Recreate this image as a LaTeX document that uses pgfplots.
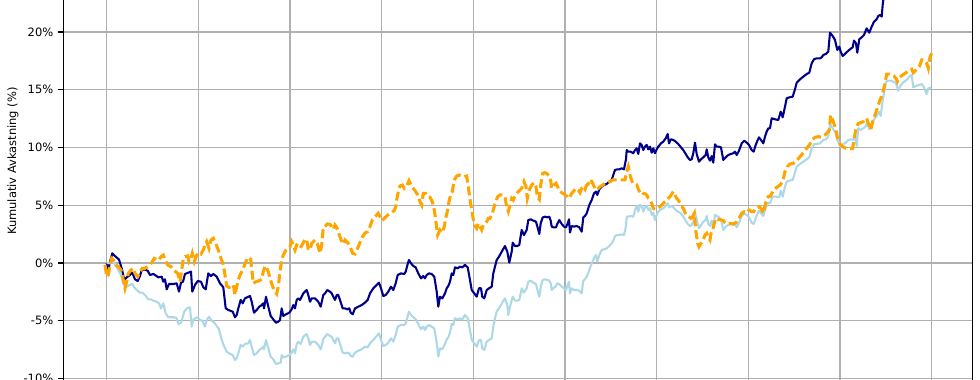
\documentclass[border=0pt]{standalone}
\usepackage{pgfplots}
\usepackage{pgfplotstable}
\pgfplotsset{compat=1.18}
\usepackage{fontspec}
\setmainfont{DejaVu Sans}
\definecolor{dblue}{HTML}{00008B}
\definecolor{lblue}{HTML}{ADD8E6}
\definecolor{orng}{HTML}{FFA500}
\definecolor{gridc}{HTML}{B0B0B0}

\pgfplotstableread{
x y
106.7 0.00
108.3 -0.60
110.0 0.10
112.3 0.84
115.0 0.60
119.0 0.30
121.7 -0.46
124.3 -1.47
126.7 -1.24
130.0 -1.04
132.3 -0.84
135.0 -1.41
137.7 -1.56
140.0 -1.13
141.7 -0.61
144.3 -0.55
147.7 -0.67
150.0 -1.04
153.3 -0.95
155.0 -1.04
158.3 -1.24
161.7 -1.18
163.3 -1.62
165.0 -1.41
166.7 -2.28
169.0 -1.82
173.3 -1.82
176.7 -1.76
179.0 -2.48
181.0 -1.70
183.0 -1.62
185.0 -0.95
188.3 -0.84
191.0 -0.75
192.3 -2.48
195.0 -1.90
197.7 -1.56
201.0 -1.62
203.3 -2.10
205.7 -2.28
208.3 -0.90
211.0 -1.13
213.3 -0.95
216.7 -1.18
220.0 -1.76
223.3 -2.10
225.7 -3.92
228.3 -4.07
232.7 -4.21
235.0 -4.70
236.7 -4.50
238.3 -3.93
240.7 -3.20
242.7 -3.49
245.0 -3.06
248.3 -2.92
250.0 -2.86
251.7 -3.35
254.0 -4.30
256.7 -4.07
259.3 -3.78
261.7 -3.64
263.3 -3.49
264.0 -3.93
266.0 -2.92
268.3 -3.78
270.7 -4.59
273.3 -4.88
276.0 -5.17
278.3 -5.08
280.0 -4.94
281.7 -3.93
283.3 -4.59
286.0 -4.44
289.3 -4.30
291.7 -4.01
293.3 -3.64
295.0 -3.93
296.7 -3.20
298.3 -3.06
300.0 -3.20
303.3 -2.63
306.7 -2.34
308.3 -2.77
310.0 -3.35
311.7 -3.06
315.0 -3.06
318.3 -3.35
320.7 -3.78
323.3 -2.77
325.0 -2.63
327.3 -2.34
330.0 -2.48
331.7 -2.63
333.3 -2.92
335.0 -3.20
336.7 -2.77
338.3 -2.77
340.0 -3.20
342.7 -3.93
345.0 -3.93
347.3 -4.01
349.3 -3.93
350.7 -4.30
352.7 -4.44
355.0 -3.93
358.3 -3.78
361.7 -3.64
365.0 -3.43
367.7 -3.20
370.0 -2.63
373.3 -2.19
376.7 -1.90
379.0 -1.70
381.0 -2.19
383.3 -2.86
385.7 -2.77
388.3 -2.48
391.0 -2.05
393.3 -2.34
395.7 -1.76
397.7 -1.04
401.0 -0.90
404.3 -0.95
405.7 -0.75
407.7 -0.09
409.0 0.26
411.0 -0.03
413.3 -0.26
415.7 -0.38
418.3 -0.90
421.0 -1.33
423.3 -1.13
425.0 -1.33
426.7 -1.04
429.0 -0.90
431.7 -0.95
434.3 -1.18
436.7 -2.48
438.3 -3.78
440.0 -2.92
442.3 -3.06
445.0 -2.63
446.7 -2.19
448.3 -1.99
450.0 -1.62
451.7 -0.90
453.3 -1.04
455.0 -0.38
457.7 -0.46
460.0 -0.32
462.3 -0.38
465.0 -0.17
467.7 -0.38
470.0 -1.47
471.7 -2.34
474.3 -2.63
476.7 -2.92
479.0 -2.19
481.0 -2.19
482.3 -2.92
484.3 -3.06
486.7 -2.34
489.0 -2.19
491.7 -2.05
493.3 -0.90
495.0 -0.32
496.7 0.26
499.0 0.55
502.7 1.13
505.0 1.47
507.3 0.98
509.3 0.03
511.7 0.98
512.7 1.76
515.0 1.47
517.3 1.47
519.3 1.56
520.7 2.34
521.7 2.86
524.0 2.42
526.7 2.86
528.3 3.72
530.7 3.78
533.3 3.67
536.0 3.58
538.3 2.86
539.3 2.51
540.7 3.43
542.7 3.95
545.0 4.01
547.3 3.95
549.3 4.01
550.7 3.67
551.7 3.15
553.3 3.09
556.0 3.09
557.3 3.38
559.3 3.72
561.7 3.38
564.0 3.15
566.0 3.09
567.7 3.43
569.0 3.78
570.0 2.63
571.7 3.20
574.0 3.15
576.7 3.20
579.3 3.09
581.7 2.71
583.3 3.95
585.0 4.07
586.7 4.30
589.3 5.02
591.7 5.45
594.0 6.03
596.0 6.18
597.3 5.89
599.3 6.38
601.7 6.61
604.0 6.75
606.7 6.84
609.3 7.04
611.7 7.19
613.3 7.62
615.0 8.05
617.3 8.11
619.3 8.11
621.7 8.20
624.0 8.11
626.0 8.98
626.7 9.78
628.3 9.64
630.7 9.64
633.3 9.50
635.0 9.78
636.7 9.93
638.3 9.44
640.0 10.36
641.7 10.22
643.3 9.78
645.0 10.07
646.7 10.22
648.3 9.84
650.0 10.07
651.7 9.55
653.3 9.93
655.0 9.50
656.7 9.84
658.3 10.07
661.0 10.36
663.3 10.51
665.7 10.79
667.7 11.17
669.0 10.36
671.0 10.71
673.3 10.65
675.7 10.51
678.3 10.30
681.0 10.01
683.3 9.78
685.7 9.44
687.7 9.15
690.0 8.92
691.7 8.98
693.3 9.50
695.0 10.42
696.7 9.44
699.0 8.77
701.0 8.98
703.3 9.15
705.7 9.35
706.7 9.84
708.3 9.15
710.0 8.86
711.7 9.26
713.3 8.69
715.0 10.27
716.7 10.07
719.0 10.07
721.0 10.01
723.3 8.92
725.7 9.15
728.3 9.35
731.0 9.44
733.3 9.50
735.0 9.64
736.7 9.35
739.0 9.72
741.7 10.36
744.3 10.59
746.7 10.42
749.0 10.22
751.7 9.78
753.7 9.64
755.7 10.22
757.7 10.65
759.0 10.88
761.0 10.65
763.3 10.36
765.0 10.94
766.7 11.37
768.3 11.66
770.0 11.66
771.7 12.53
775.0 12.44
778.3 12.38
780.7 13.10
782.7 12.61
785.0 13.53
786.7 14.26
789.3 14.34
792.7 14.40
795.0 15.04
796.7 15.61
800.0 15.90
803.3 16.13
806.7 16.36
809.3 16.48
811.7 17.29
814.0 17.64
816.7 17.72
820.0 17.72
821.7 17.81
823.3 18.01
826.0 18.10
828.3 18.30
830.0 19.94
832.7 19.65
835.0 19.31
837.3 18.44
839.3 18.73
840.7 18.30
842.7 17.92
845.0 18.10
847.3 18.30
850.0 18.50
852.7 18.68
854.0 19.25
856.0 19.02
857.3 18.21
859.3 19.37
861.7 19.54
864.0 19.74
866.7 20.32
869.3 19.94
871.7 20.46
874.0 20.89
876.7 21.10
878.3 21.39
880.0 21.47
881.7 21.33
882.7 22.34
883.3 22.77
885.0 23.60
890.0 24.00
900.0 24.50
910.0 24.80
920.0 25.30
931.7 25.80
}\dbtable

\pgfplotstableread{
x y
106.7 0.00
110.0 -0.03
113.3 0.12
115.7 -0.17
118.3 -0.61
121.0 -1.04
123.3 -1.76
125.0 -2.11
127.7 -1.99
130.0 -1.90
132.3 -1.82
134.3 -2.11
136.7 -2.34
140.0 -2.57
142.3 -2.57
145.0 -2.77
148.3 -3.15
151.0 -3.15
153.3 -3.26
156.7 -3.35
159.0 -3.49
161.0 -3.93
163.3 -3.49
165.7 -4.36
168.3 -4.70
171.0 -4.70
174.3 -4.70
176.7 -4.79
178.3 -5.28
181.0 -5.17
182.3 -4.79
184.3 -4.21
186.7 -3.93
190.0 -3.84
191.7 -5.51
193.3 -4.94
195.0 -4.79
197.7 -4.70
200.0 -4.94
202.3 -4.99
205.0 -5.51
206.7 -4.94
209.0 -4.65
211.7 -4.99
214.3 -5.17
216.7 -5.45
219.0 -5.74
221.7 -6.67
224.3 -7.24
226.7 -7.68
229.0 -7.82
232.7 -7.97
235.0 -8.40
236.7 -8.25
238.3 -7.82
240.7 -7.10
242.7 -7.24
245.0 -7.01
248.3 -6.95
250.0 -6.67
251.7 -7.24
254.0 -7.97
256.7 -7.82
259.3 -7.53
261.7 -7.39
263.3 -7.24
264.0 -7.47
266.0 -6.67
268.3 -7.39
270.7 -8.11
273.3 -8.34
276.0 -8.74
278.3 -8.69
280.7 -8.63
281.7 -7.97
283.3 -8.17
286.0 -8.11
289.3 -7.97
291.7 -7.76
293.3 -7.47
295.0 -7.82
296.7 -7.01
298.3 -6.81
300.7 -7.01
303.3 -6.38
306.7 -6.15
308.3 -6.52
310.0 -7.10
311.7 -6.81
315.0 -6.81
318.3 -7.10
320.7 -7.47
323.3 -6.61
325.0 -6.38
327.3 -6.15
330.0 -6.32
331.7 -6.38
333.3 -6.67
335.0 -6.95
336.7 -6.52
338.3 -6.52
340.0 -7.01
342.7 -7.76
345.0 -7.82
347.3 -7.76
349.3 -7.82
350.7 -8.05
352.7 -8.11
355.0 -7.76
358.3 -7.59
361.7 -7.47
365.0 -7.24
367.7 -7.30
370.0 -6.95
373.3 -6.67
376.7 -6.32
379.0 -6.09
381.0 -6.67
383.3 -7.19
385.7 -7.10
388.3 -6.90
391.0 -6.52
393.3 -6.81
395.7 -6.23
397.7 -5.51
401.0 -5.37
404.3 -5.37
405.7 -5.22
407.7 -4.59
409.0 -4.21
411.0 -4.50
413.3 -4.70
415.7 -4.88
418.3 -5.28
421.0 -5.74
423.3 -5.51
425.0 -5.80
426.7 -5.51
429.0 -5.37
431.7 -5.51
434.3 -5.66
436.7 -6.90
438.3 -8.11
440.0 -7.39
442.3 -7.47
445.0 -7.01
446.7 -6.61
448.3 -6.44
450.0 -6.03
451.7 -5.28
453.3 -5.37
455.0 -4.79
457.7 -4.88
460.0 -4.79
462.3 -4.88
465.0 -4.50
467.7 -4.79
470.0 -5.80
471.7 -6.67
474.3 -6.95
476.7 -7.24
479.0 -6.67
481.0 -6.67
482.3 -7.39
484.3 -7.53
486.7 -6.81
489.0 -6.67
491.7 -6.52
493.3 -5.51
495.0 -4.79
496.7 -4.21
499.0 -3.93
501.7 -3.55
502.7 -3.35
505.0 -3.06
507.3 -3.64
508.3 -4.50
510.0 -3.78
512.7 -2.92
515.0 -3.26
517.3 -3.26
519.3 -3.20
520.7 -2.63
521.7 -2.19
524.0 -2.57
526.7 -2.19
528.3 -1.62
530.7 -1.53
533.3 -1.70
536.0 -1.82
538.3 -2.63
539.3 -2.92
540.7 -2.05
542.7 -1.47
545.0 -1.41
547.3 -1.47
549.3 -1.53
550.7 -1.76
551.7 -2.34
553.3 -2.19
556.0 -1.99
557.3 -1.76
559.3 -1.82
561.7 -2.05
564.0 -2.19
566.0 -2.34
567.7 -1.90
569.0 -1.62
570.0 -2.63
571.7 -2.19
574.0 -2.34
576.7 -2.34
579.3 -2.40
581.7 -2.63
583.3 -1.53
585.0 -1.41
586.7 -1.18
589.3 -0.61
591.7 -0.03
594.0 0.40
596.0 0.69
597.3 0.12
599.3 0.69
601.7 1.13
604.0 1.18
606.7 1.27
609.3 1.47
611.7 1.70
613.3 1.93
615.0 2.34
617.3 2.42
619.3 2.42
621.7 2.48
624.0 2.42
626.0 3.20
626.7 4.01
628.3 4.01
630.7 4.07
633.3 4.01
635.0 4.59
636.7 4.94
638.3 4.44
640.0 5.02
641.7 4.94
643.3 4.44
645.0 4.82
646.7 4.94
648.3 4.59
650.0 4.73
651.7 4.16
653.3 4.36
655.0 3.72
656.7 4.16
658.3 4.44
661.0 4.65
663.3 4.73
665.7 4.94
667.7 5.17
669.0 4.82
671.0 4.94
673.3 4.82
675.7 4.59
678.3 4.44
681.0 4.30
683.3 4.01
685.7 3.67
687.7 3.38
690.0 3.20
691.7 3.29
693.3 3.58
695.0 4.44
696.7 3.72
699.0 3.00
701.0 3.29
703.3 3.58
705.7 3.72
706.7 4.07
708.3 3.38
710.0 3.20
711.7 3.67
713.3 3.00
715.0 4.16
716.7 4.07
719.0 3.96
721.0 3.78
723.3 2.86
725.7 3.15
728.3 3.29
731.0 3.38
733.3 3.29
735.0 3.38
736.7 3.09
739.0 3.49
741.7 4.07
744.3 4.30
746.7 4.16
749.0 3.96
751.7 3.49
753.7 3.38
755.7 3.87
757.7 4.30
759.0 4.53
761.0 4.30
763.3 4.07
765.0 4.59
766.7 4.94
768.3 5.22
770.0 5.17
772.7 5.74
776.0 5.74
779.3 5.69
780.7 6.26
782.7 5.74
785.0 6.61
786.7 7.04
789.3 7.13
792.7 7.19
795.0 7.82
796.7 8.34
800.0 8.57
803.3 8.77
806.7 8.98
809.3 9.15
811.7 9.93
814.0 10.30
816.7 10.30
820.0 10.36
821.7 10.51
823.3 10.65
826.0 10.71
828.3 10.94
830.0 12.03
832.7 11.66
835.0 11.37
837.3 10.65
839.3 10.36
840.7 10.07
843.3 10.30
846.0 10.42
848.3 10.65
851.7 10.71
853.3 10.65
855.0 10.94
856.7 10.13
858.3 11.66
860.7 11.52
863.3 11.66
866.0 11.86
867.3 12.24
869.3 11.57
871.7 12.09
874.0 12.44
876.7 12.73
879.3 13.10
880.7 12.73
882.7 14.11
884.0 14.69
886.0 15.70
888.3 15.79
890.7 15.79
893.3 15.70
896.0 15.56
898.3 14.92
900.0 15.27
902.7 15.61
906.0 15.79
909.3 16.13
911.7 16.28
913.3 15.21
916.0 15.32
919.3 15.41
921.7 15.50
924.0 15.21
926.7 14.63
928.3 15.12
931.0 15.21
}\lbtable

\pgfplotstableread{
x y
105.0 -0.17
106.7 -1.18
108.3 -1.04
110.0 -0.17
111.7 0.40
113.3 0.26
115.7 -0.17
118.3 -0.32
121.0 -0.61
123.3 -1.47
125.0 -2.19
126.7 -1.62
128.3 -0.90
131.0 -0.61
133.3 -0.46
135.0 -0.90
137.7 -1.18
140.0 -0.75
142.3 -0.46
145.0 -0.46
147.7 -0.32
150.0 -0.17
152.3 0.12
154.3 0.40
156.7 0.26
159.0 0.26
161.0 0.55
163.3 0.69
165.0 0.26
167.7 -0.17
171.0 -0.32
174.3 -0.66
177.7 -0.90
180.0 -1.62
181.7 -0.61
183.3 0.40
185.0 0.55
187.7 0.61
189.0 0.12
191.0 0.40
192.3 0.84
194.3 0.12
196.7 0.69
199.0 0.90
201.0 0.78
203.3 1.13
205.0 1.56
206.7 1.85
209.0 1.27
211.0 1.99
213.3 2.14
215.7 1.70
218.3 1.13
221.0 0.40
223.3 -0.17
225.0 -1.04
226.7 -1.99
229.0 -2.11
231.7 -2.05
233.3 -1.90
235.0 -2.77
236.7 -2.05
238.3 -1.47
240.0 -1.04
242.7 -0.61
245.0 -0.09
246.7 0.26
248.3 0.49
250.7 0.32
251.7 -0.46
253.3 -1.76
256.0 -1.62
259.3 -1.53
261.7 -1.41
263.3 -0.75
265.0 -0.26
266.7 -0.38
268.3 -0.75
270.0 -1.33
272.7 -2.05
275.0 -2.48
276.7 -2.68
278.3 -2.05
280.0 -0.75
281.7 0.26
283.3 0.69
286.0 1.13
288.3 1.36
290.0 1.41
291.7 1.85
293.3 1.56
295.0 1.13
296.7 1.56
298.3 1.47
300.0 1.27
302.7 1.65
305.0 2.05
306.7 2.05
308.3 1.13
310.0 1.18
311.7 1.70
315.0 1.99
317.3 1.70
320.0 0.84
321.7 1.56
323.3 3.09
325.0 3.15
327.3 3.38
330.0 3.35
331.7 3.15
333.3 2.92
335.0 3.29
336.7 3.09
338.3 2.71
340.0 2.28
341.7 1.85
343.3 1.65
345.0 1.99
346.7 1.85
348.3 1.70
350.7 1.27
352.7 0.84
355.0 0.78
358.3 1.41
361.7 2.14
365.0 2.60
367.7 2.71
370.0 3.15
372.3 3.72
374.3 3.87
376.7 4.16
378.3 4.30
380.0 4.01
382.3 3.67
384.3 3.87
386.7 4.07
389.0 4.24
391.7 4.36
394.3 4.53
395.7 4.88
396.7 5.45
398.3 6.18
400.0 6.67
402.3 6.75
404.3 6.46
406.7 6.67
409.0 7.13
411.0 6.75
413.3 6.46
415.7 6.18
417.7 5.89
420.0 5.31
421.7 5.02
423.3 6.03
425.7 6.03
427.7 5.74
430.0 5.69
432.3 5.31
434.3 4.59
435.7 3.72
437.7 2.42
440.0 2.86
442.3 2.63
444.3 3.15
445.7 3.87
447.7 4.59
449.0 5.31
451.0 6.03
452.3 6.18
454.3 7.19
456.7 7.53
459.0 7.62
461.7 7.53
464.3 7.47
466.7 7.53
468.3 6.61
470.0 5.51
471.7 4.59
473.3 3.78
475.0 3.20
476.7 3.00
478.3 3.43
480.0 3.15
481.7 2.86
483.3 3.29
485.0 3.43
486.7 3.58
488.3 3.87
490.0 3.87
491.7 4.16
493.3 4.59
495.0 5.17
497.7 5.74
500.0 5.89
503.3 5.89
505.0 5.74
506.7 4.82
508.3 4.44
510.0 5.02
511.7 5.60
513.3 5.45
515.0 5.80
517.3 6.09
520.0 6.32
521.7 6.46
524.0 7.04
526.0 6.61
527.3 5.60
529.3 6.32
531.7 6.75
534.0 6.95
536.0 6.61
537.3 5.74
539.3 5.51
540.7 6.75
542.7 7.76
545.0 7.82
547.3 7.71
549.3 7.53
550.7 7.13
551.7 6.46
554.0 6.75
556.0 6.90
557.3 6.67
559.3 6.26
561.7 6.09
564.0 5.97
566.7 5.80
568.3 5.60
570.0 5.74
571.7 6.03
574.0 6.26
576.0 6.46
578.3 6.32
580.0 6.09
581.7 6.46
583.3 6.61
585.0 6.38
586.7 6.75
588.3 6.84
590.7 7.24
592.7 6.90
595.0 6.46
596.7 6.32
598.3 6.46
600.0 6.61
602.7 6.75
605.0 6.90
607.3 6.95
610.0 7.04
612.7 7.19
615.0 7.19
617.3 7.19
620.0 7.19
622.7 7.19
625.0 7.19
626.7 7.91
628.3 8.34
630.0 7.62
631.7 7.13
633.3 6.90
635.0 6.90
636.7 6.80
638.3 6.40
640.0 6.10
641.7 6.20
643.3 6.03
645.0 6.00
646.7 5.89
648.3 5.60
650.0 5.45
651.7 5.17
653.3 4.73
655.0 4.65
656.7 4.73
659.0 4.82
661.0 4.94
663.3 5.17
665.0 5.31
666.7 5.45
668.3 5.60
670.0 5.74
671.7 5.97
673.3 6.18
675.0 5.89
676.7 5.60
678.3 5.45
681.0 5.02
683.3 4.73
685.0 4.36
686.7 4.16
689.0 4.01
691.0 3.87
692.3 3.96
694.3 4.30
695.7 2.86
697.7 1.70
699.0 1.41
701.0 1.70
703.3 2.05
705.0 2.42
706.7 2.57
708.3 2.22
710.0 1.99
711.0 2.57
712.3 2.71
714.3 3.43
715.7 3.87
718.3 3.78
721.0 3.72
723.3 3.67
725.0 3.49
727.7 3.38
730.0 3.43
732.3 3.38
735.0 3.43
736.7 3.58
739.0 3.87
741.7 4.30
744.3 4.44
746.7 4.36
749.0 4.59
751.7 4.44
753.7 4.44
755.7 4.73
757.7 4.82
759.0 4.88
761.0 4.73
763.3 4.30
765.0 4.94
766.7 5.60
768.3 5.74
770.0 5.74
773.3 6.26
776.7 6.55
780.0 6.75
782.7 7.04
785.0 7.91
787.3 8.34
790.0 8.57
793.3 8.63
796.7 8.86
800.0 9.20
803.3 9.55
806.7 9.93
810.0 10.30
812.7 10.71
815.0 10.88
818.3 10.94
821.7 10.88
825.0 11.08
827.3 11.28
829.3 11.52
830.7 12.81
832.7 12.38
835.0 11.80
836.7 11.23
838.3 10.51
840.0 10.30
842.7 10.07
846.0 9.93
849.3 9.87
852.7 9.93
854.0 10.65
856.0 11.66
858.3 12.09
860.7 12.15
863.3 12.24
866.7 12.53
868.3 12.09
870.7 11.52
872.7 12.24
875.0 12.81
877.3 13.39
880.0 14.11
882.7 14.69
885.0 15.56
886.7 16.36
889.3 16.36
891.7 16.28
894.0 16.19
896.0 15.99
897.3 15.70
899.3 16.08
902.7 16.28
906.0 16.48
909.3 16.65
911.7 16.77
913.3 16.48
916.0 16.71
919.3 17.00
921.7 17.58
924.0 17.58
926.7 17.29
928.3 16.86
930.0 17.81
931.7 18.16
}\ortable

\begin{document}
\begin{tikzpicture}
\path (-45.36bp,0bp) rectangle (660.24bp,273.6bp);
\begin{scope}[overlay]
\begin{axis}[
  at={(0,0)}, anchor=south west,
  scale only axis,
  width=655.2bp, height=273.6bp,
  xmin=63, xmax=973,
  ymin=-10.13, ymax=22.77,
  xtick={106.7,198.3,290,381.7,473.3,565,656.7,748.3,840,931.7},
  xticklabels={},
  ytick={-10,-5,0,5,10,15,20},
  yticklabels={-10\%,-5\%,0\%,5\%,10\%,15\%,20\%},
  ticklabel style={font=\fontsize{8.3}{10}\selectfont},
  ytick pos=left,
  x tick style={draw=none},
  y tick style={black, line width=0.8bp},
  tick align=outside,
  major tick length=3.5bp,
  axis line style={draw=none},
  grid=major,
  major grid style={gridc, line width=0.8bp},
  ylabel={Kumulativ Avkastning (\%)},
  every axis y label/.style={at={(axis description cs:0,0.5763)}, xshift=-36bp, rotate=90, anchor=center, font=\fontsize{8.3}{10}\selectfont},
]
\addplot[dblue, line width=1.5bp, line join=round] table[x=x,y=y] {\dbtable};
\addplot[lblue, line width=1.5bp, line join=round] table[x=x,y=y] {\lbtable};
\addplot[orng, line width=2.2bp, dash pattern=on 6.5bp off 2.8bp] table[x=x,y=y] {\ortable};
\draw[black, line width=0.8bp] (rel axis cs:0,-0.05) -- (rel axis cs:0,1);
\draw[black, line width=0.8bp] (rel axis cs:1,-0.05) -- (rel axis cs:1,1);
\end{axis}
\end{scope}
\end{tikzpicture}
\end{document}
